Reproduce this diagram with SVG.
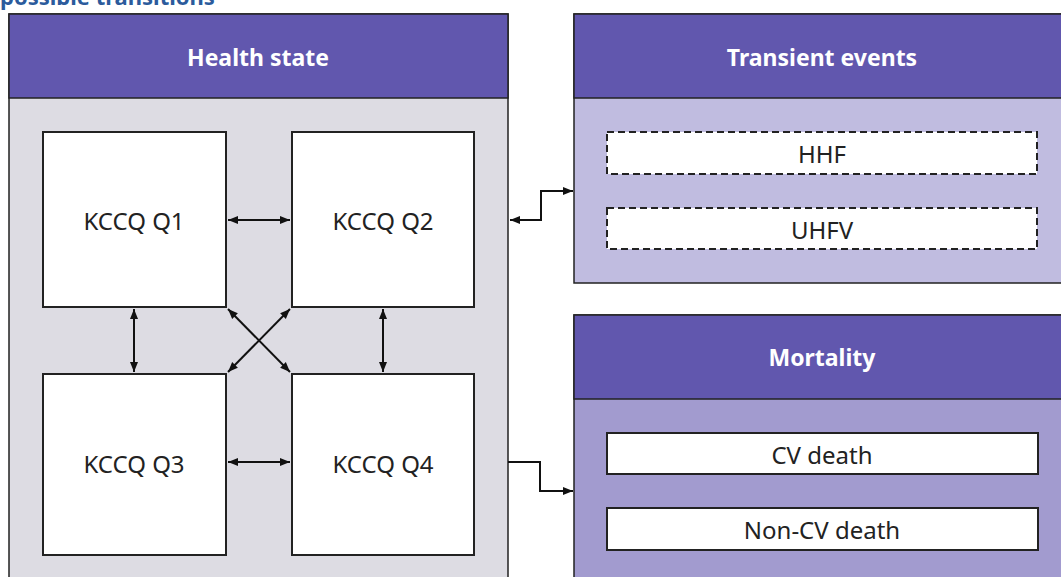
<svg xmlns="http://www.w3.org/2000/svg" width="1061" height="577" viewBox="0 0 1061 577">
<style>
.hdr{fill:#6157ae;stroke:#222;stroke-width:1.5}
.hdrt{fill:#fff;font-family:"Noto Sans","Open Sans",sans-serif;font-weight:bold;font-size:23px;text-anchor:middle;dominant-baseline:central}
.box{fill:#fff;stroke:#222;stroke-width:2}
.dbox{fill:#fff;stroke:#222;stroke-width:2;stroke-dasharray:7 4}
.lbl{fill:#222;font-family:"Noto Sans","Open Sans",sans-serif;font-size:24px;text-anchor:middle;dominant-baseline:central}
.con{fill:none;stroke:#111;stroke-width:2}
</style>
<defs>
<marker id="ah" viewBox="0 0 10 10" refX="10" refY="5" markerWidth="5" markerHeight="5" orient="auto-start-reverse" markerUnits="strokeWidth">
<path d="M0,1 L10,5 L0,9 z" fill="#111"/>
</marker>
</defs>
<rect width="1061" height="577" fill="#fff"/>
<text x="0" y="5" font-family="Noto Sans, Open Sans, sans-serif" font-weight="bold" font-size="22" fill="#2b5b9c">possible transitions</text>

<g id="health-state">
<rect x="9" y="14" width="499" height="580" fill="#dddce3" stroke="#222" stroke-width="1.5"/>
<rect class="hdr" x="9" y="14" width="499" height="84"/>
<text class="hdrt" x="258" y="57">Health state</text>
</g>
<g id="kcccq-q1"><rect class="box" x="43" y="132" width="183" height="175"/><text class="lbl" x="134" y="220">KCCQ Q1</text></g>
<g id="kcccq-q2"><rect class="box" x="292" y="132" width="182" height="175"/><text class="lbl" x="383" y="220">KCCQ Q2</text></g>
<g id="kcccq-q3"><rect class="box" x="43" y="374" width="183" height="181"/><text class="lbl" x="134" y="463">KCCQ Q3</text></g>
<g id="kcccq-q4"><rect class="box" x="292" y="374" width="182" height="181"/><text class="lbl" x="383" y="463">KCCQ Q4</text></g>

<g id="transient-events">
<rect x="574" y="14" width="500" height="269" fill="#c0bce0" stroke="#222" stroke-width="1.5"/>
<rect class="hdr" x="574" y="14" width="500" height="84"/>
<text class="hdrt" x="822" y="57">Transient events</text>
</g>
<g id="hhf"><rect class="dbox" x="607" y="132" width="430" height="42"/><text class="lbl" x="822" y="153">HHF</text></g>
<g id="uhfv"><rect class="dbox" x="607" y="208" width="430" height="41"/><text class="lbl" x="822" y="229">UHFV</text></g>

<g id="mortality">
<rect x="574" y="315" width="500" height="280" fill="#a29bcf" stroke="#222" stroke-width="1.5"/>
<rect class="hdr" x="574" y="315" width="500" height="84"/>
<text class="hdrt" x="822" y="357">Mortality</text>
</g>
<g id="cv-death"><rect class="box" x="607" y="433" width="431" height="41"/><text class="lbl" x="822" y="454">CV death</text></g>
<g id="non-cv-death"><rect class="box" x="607" y="508" width="431" height="42"/><text class="lbl" x="822" y="529">Non-CV death</text></g>

<g id="connectors">
<path class="con" d="M228,220 L290,220" marker-start="url(#ah)" marker-end="url(#ah)"/>
<path class="con" d="M228,462 L290,462" marker-start="url(#ah)" marker-end="url(#ah)"/>
<path class="con" d="M134,309 L134,372" marker-start="url(#ah)" marker-end="url(#ah)"/>
<path class="con" d="M383,309 L383,372" marker-start="url(#ah)" marker-end="url(#ah)"/>
<path class="con" d="M228,309 L290,372" marker-start="url(#ah)" marker-end="url(#ah)"/>
<path class="con" d="M290,309 L228,372" marker-start="url(#ah)" marker-end="url(#ah)"/>
<path class="con" d="M510,220 L541,220 L541,191 L573,191" marker-start="url(#ah)" marker-end="url(#ah)"/>
<path class="con" d="M508,462 L540,462 L540,491 L573,491" marker-end="url(#ah)"/>
</g>
</svg>
